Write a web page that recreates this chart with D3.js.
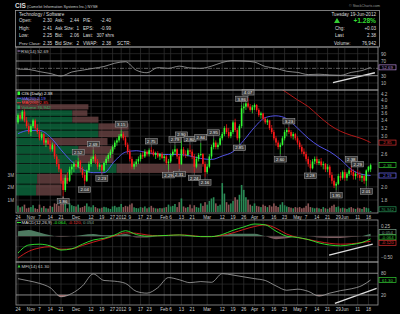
<!DOCTYPE html>
<meta charset="utf-8">
<script src="https://d3js.org/d3.v7.min.js"></script>
<style>body{margin:0;background:#000}</style>
<body>
<div id="chart"></div>
<script>

// ---------------- data ----------------
var holidays = ["2011-11-24","2011-12-26","2012-01-02","2012-01-16","2012-02-20","2012-04-06","2012-05-28"];

var opens = [
3.35,3.55,3.45,3.65,3.40, 3.25,3.10,3.25,3.40,3.20, 3.10,2.95,3.05,2.85,2.90, 2.82,2.70,2.80,2.55,2.40,
2.30,2.10,1.95,2.15,2.10, 2.30,2.35,2.40,2.35,2.45, 2.30,2.20,2.10,2.28,2.40, 2.50,2.55,2.45,2.35,2.38,
2.28,2.42,2.50,2.58,2.65, 2.75,2.85,2.90,3.00,3.05, 2.95,2.80,2.65,2.50,2.35, 2.40,2.45,2.50,2.58,2.55,
2.65,2.60,2.68,2.65,2.58, 2.62,2.55,2.60,2.52,2.55, 2.42,2.45,2.58,2.65,2.70, 2.55,2.40,2.70,2.60,2.58,
2.68,2.65,2.55,2.35,2.50, 2.58,2.60,2.40,2.25,2.35, 2.55,2.75,2.85,2.75,2.80, 2.95,3.05,3.20,3.10,3.00,
3.10,3.35,3.15,2.95,3.25, 3.75,3.80,3.90,3.80,3.70, 3.78,3.85,3.70,3.55,3.60, 3.45,3.35,3.40,3.20,3.10,
2.95,2.85,2.75,2.80,2.95, 3.10,3.15,3.10,3.00,3.05, 2.95,2.85,2.75,2.65,2.60, 2.50,2.40,2.32,2.45,2.50,
2.42,2.45,2.38,2.40,2.30, 2.35,2.20,2.10,2.02,2.05, 2.18,2.15,2.25,2.15,2.22, 2.28,2.25,2.18,2.22,2.20,
2.15,2.18,2.10,2.28,2.30];
var highs = [
3.60,3.62,3.70,3.72,3.50, 3.35,3.30,3.45,3.45,3.30, 3.15,3.10,3.08,2.95,2.98, 2.90,2.85,2.82,2.60,2.50,
2.32,2.15,2.20,2.25,2.35, 2.40,2.45,2.48,2.52,2.48, 2.35,2.25,2.30,2.45,2.55, 2.69,2.60,2.50,2.42,2.40,
2.45,2.55,2.62,2.70,2.80, 2.90,2.95,3.05,3.15,3.10, 3.00,2.85,2.70,2.55,2.45, 2.50,2.55,2.62,2.65,2.70,
2.68,2.72,2.75,2.70,2.65, 2.66,2.62,2.64,2.60,2.58, 2.50,2.62,2.70,2.79,2.72, 2.60,2.90,2.75,2.68,2.72,
2.80,2.70,2.60,2.55,2.62, 2.84,2.62,2.45,2.40,2.60, 2.80,2.95,2.90,2.85,3.00, 3.10,3.25,3.30,3.20,3.15,
3.40,3.45,3.20,3.30,3.86, 3.90,3.95,4.07,3.88,3.85, 3.90,3.88,3.75,3.65,3.62, 3.50,3.45,3.42,3.28,3.15,
3.00,2.90,2.85,3.00,3.15, 3.20,3.23,3.15,3.10,3.08, 3.00,2.90,2.80,2.72,2.65, 2.55,2.48,2.50,2.55,2.55,
2.50,2.52,2.45,2.42,2.40, 2.38,2.25,2.15,2.08,2.22, 2.25,2.28,2.30,2.25,2.32, 2.38,2.30,2.25,2.29,2.26,
2.22,2.20,2.30,2.36,2.41];
var lows = [
3.30,3.40,3.40,3.35,3.20, 3.05,3.00,3.20,3.15,3.05, 2.90,2.90,2.80,2.75,2.80, 2.65,2.65,2.50,2.35,2.25,
2.05,1.86,1.92,2.05,2.08, 2.20,2.25,2.30,2.32,2.25, 2.15,2.04,2.08,2.25,2.35, 2.45,2.40,2.30,2.28,2.23,
2.25,2.38,2.45,2.52,2.60, 2.70,2.78,2.85,2.95,2.90, 2.75,2.60,2.45,2.30,2.30, 2.35,2.40,2.45,2.50,2.52,
2.55,2.55,2.60,2.55,2.50, 2.52,2.48,2.50,2.45,2.38, 2.29,2.42,2.55,2.60,2.50, 2.31,2.38,2.55,2.52,2.55,
2.60,2.50,2.24,2.32,2.45, 2.55,2.35,2.16,2.22,2.32, 2.50,2.70,2.70,2.70,2.78, 2.90,3.00,3.05,2.95,2.95,
3.05,3.10,2.90,2.85,3.20, 3.60,3.70,3.75,3.65,3.60, 3.70,3.65,3.50,3.45,3.40, 3.30,3.28,3.15,3.05,2.90,
2.78,2.70,2.60,2.78,2.90, 3.00,3.05,2.95,2.92,2.90, 2.80,2.70,2.60,2.55,2.45, 2.35,2.28,2.30,2.40,2.38,
2.38,2.35,2.30,2.25,2.25, 2.15,2.05,1.98,1.95,2.03, 2.10,2.12,2.10,2.10,2.18, 2.20,2.12,2.12,2.15,2.10,
2.08,2.05,2.01,2.25,2.25];
var closes = [
3.55,3.45,3.65,3.40,3.25, 3.10,3.25,3.40,3.20,3.10, 2.95,3.05,2.85,2.90,2.82, 2.70,2.80,2.55,2.40,2.30,
2.10,1.95,2.15,2.10,2.30, 2.35,2.40,2.35,2.45,2.30, 2.20,2.10,2.28,2.40,2.50, 2.55,2.45,2.35,2.38,2.28,
2.42,2.50,2.58,2.65,2.75, 2.85,2.90,3.00,3.05,2.95, 2.80,2.65,2.50,2.35,2.40, 2.45,2.50,2.58,2.55,2.65,
2.60,2.68,2.65,2.58,2.62, 2.55,2.60,2.52,2.55,2.42, 2.45,2.58,2.65,2.70,2.55, 2.40,2.70,2.60,2.58,2.68,
2.65,2.55,2.35,2.50,2.58, 2.60,2.40,2.25,2.35,2.55, 2.75,2.85,2.75,2.80,2.95, 3.05,3.20,3.10,3.00,3.10,
3.35,3.15,2.95,3.25,3.75, 3.80,3.90,3.80,3.70,3.78, 3.85,3.70,3.55,3.60,3.45, 3.35,3.40,3.20,3.10,2.95,
2.85,2.75,2.80,2.95,3.10, 3.15,3.10,3.00,3.05,2.95, 2.85,2.75,2.65,2.60,2.50, 2.40,2.32,2.45,2.50,2.42,
2.45,2.38,2.40,2.30,2.35, 2.20,2.10,2.02,2.05,2.18, 2.15,2.25,2.15,2.22,2.28, 2.25,2.18,2.22,2.20,2.15,
2.18,2.10,2.28,2.35,2.38];
// daily volume, thousands of shares
var volumes = [
520,380,450,600,300,350,
400,550,300,250,600,350,480,300,280,500,420,700,650,520,900,1250,800,300,700,550,480,
450,600,350,400,500,700,450,380,550,400,300,280,350,420,380,300,250,450,500,380,420,
650,400,500,450,600,700,380,320,300,400,350,450,300,380,500,350,300,280,320,300,
350,400,600,450,500,650,400,800,1100,450,350,400,600,300,550,400,350,700,500,800,
600,900,1100,1200,700,500,600,2350,1500,800,600,700,900,1200,1000,1400,2200,1800,1200,1000,600,500,
700,500,450,400,600,500,400,550,450,700,500,400,600,800,550,450,400,350,300,400,
350,400,300,350,500,700,400,350,300,350,300,250,400,300,250,350,500,600,400,450,300,350,
300,250,350,400,300,250,350,300,250,400,350,300,77];

// indicator readings, one every 5 sessions plus the last session
var ma20   = [3.06,3.14,3.14,2.98,2.69,2.45,2.30,2.24,2.24,2.46,2.64,2.67,2.63,2.60,2.59,2.59,2.56,
              2.51,2.49,2.56,2.65,2.90,3.22,3.48,3.53,3.45,3.20,2.95,2.77,2.65,2.49,2.30,2.21,2.19];
var ma200  = [4.50,4.25,4.01,3.80,3.52,3.28,3.12,3.02,2.94,2.85];   // from session 120
var rsi    = [48,47,41,36,29,40,45,50,55,64,68,45,38,52,50,56,51,50,56,66,71,70,67,55,50,42,39,33,34,32,31,39,44,52.69];
var macd   = [-0.40,-0.21,-0.19,-0.23,-0.33,-0.30,-0.19,-0.09,-0.05,0.03,0.13,0.04,0.00,0.01,0.02,0.03,0.01,
              -0.01,-0.01,0.04,0.14,0.22,0.29,0.27,0.12,0.00,-0.03,-0.08,-0.16,-0.21,-0.23,-0.20,-0.15,-0.064];
var signal = [-0.52,-0.36,-0.28,-0.25,-0.31,-0.30,-0.22,-0.14,-0.07,0.01,0.08,0.07,0.03,0.01,0.02,0.03,0.02,
              -0.01,-0.01,0.02,0.08,0.16,0.23,0.27,0.19,0.05,-0.03,-0.08,-0.13,-0.17,-0.19,-0.18,-0.15,-0.12];
var mfi    = [65,59,52,40,15,24,45,78,60,58,52,30,25,40,68,62,54,57,55,79,75,70,65,60,45,33,36,30,17,25,32,37,46,61.3];

// volume by price: 12 equal price zones between the period low and high (thousands)
var vbpUp   = [2000,2100,10000,6200,6200,2700,8200,8200,5600,5600,300,600];
var vbpDown = [2500,3000,8500,3500,3500,6400,3000,3000,2600,1500,6900,1800];

// price labels on swing highs / lows: session, value
var swings = [[21,1.86,"lo"],[28,2.52,"hi"],[31,2.04,"lo"],[35,2.69,"hi"],[39,2.23,"lo"],[48,3.15,"hi"],
  [62,2.75,"hi"],[70,2.29,"lo"],[73,2.79,"hi"],[75,2.31,"lo"],[76,2.90,"hi"],[80,2.80,"hi"],[82,2.24,"lo"],
  [85,2.84,"hi"],[87,2.16,"lo"],[91,2.95,"hi"],[103,2.85,"lo"],[104,3.86,"hi"],[107,4.07,"hi"],[122,2.60,"lo"],
  [126,3.23,"hi"],[136,2.28,"lo"],[148,1.95,"lo"],[155,2.38,"hi"],[158,2.29,"hi"],[162,2.01,"lo"]];

// trend lines drawn on the indicators: [session, value]
var rsiTrend  = [[146.5,11],[166,38]];
var macdTrend = [[144.7,-0.45],[165,-0.19]];
var mfiTrend  = [[147.4,-3],[166.8,38]];

var xTicks = [["2011-10-24","24"],["2011-11-01","Nov"],["2011-11-07","7"],["2011-11-14","14"],["2011-11-21","21"],
  ["2011-12-01","Dec"],["2011-12-12","12"],["2011-12-19","19"],["2011-12-27","27"],["2012-01-03","2012"],
  ["2012-01-09","9"],["2012-01-17","17"],["2012-01-23","23"],["2012-02-01","Feb"],["2012-02-06","6"],
  ["2012-02-13","13"],["2012-02-21","21"],["2012-03-01","Mar"],["2012-03-12","12"],["2012-03-19","19"],
  ["2012-03-26","26"],["2012-04-02","Apr"],["2012-04-09","9"],["2012-04-16","16"],["2012-04-23","23"],
  ["2012-05-01","May"],["2012-05-07","7"],["2012-05-14","14"],["2012-05-21","21"],["2012-05-29","29"],
  ["2012-06-01","Jun"],["2012-06-11","11"],["2012-06-18","18"]];
var priceTicks = [4.2,4.0,3.8,3.6,3.4,3.2,3.0,2.8,2.6,2.4,2.2,2.0,1.8];
var volTicks = [1000,2000,3000];

// ---------------- layout ----------------
var W = 400, H = 314, left = 16, right = 378;
var font = "'Liberation Sans', Arial, sans-serif";
var svg = d3.select("#chart").append("svg")
    .attr("width", W).attr("height", H)
    .style("background", "#000").style("font-family", font);

// trading sessions
var fmt = d3.timeFormat("%Y-%m-%d");
var days = [];
for (var d = new Date(2011, 9, 24); d <= new Date(2012, 5, 19); d.setDate(d.getDate() + 1)) {
    if (d.getDay() == 0 || d.getDay() == 6 || holidays.indexOf(fmt(d)) >= 0) continue;
    days.push(fmt(d));
}
var n = days.length;
var sIdx = d3.range(0, n - 4, 5).concat([n - 1]);

var x = d3.scaleLinear().domain([0, n - 1]).range([18, 370.6]);

var panels = {
    rsi:  {top: 47, bottom: 90},
    main: {top: 90, bottom: 213},
    macd: {top: 220, bottom: 262},
    mfi:  {top: 262, bottom: 305}
};
var yRsi = d3.scaleLinear().domain([0, 100]).range([86.7, 50]);
var yP = d3.scaleLog().domain([4.34, 1.6225]).range([90, 213]);
var yV = d3.scaleLinear().domain([0, 10000]).range([212, 89]);
var yM = d3.scaleLinear().domain([-0.5, 0.25]).range([257.2, 225.7]);
var yF = d3.scaleLinear().domain([0, 100]).range([302.2, 266]);

function txt(g, xx, yy, s, size, color, anchor) {
    return g.append("text").attr("x", xx).attr("y", yy).text(s)
        .style("font-size", size + "px").attr("fill", color)
        .attr("text-anchor", anchor || "start");
}

// clip paths per panel
Object.keys(panels).forEach(function(k) {
    var p = panels[k];
    svg.append("clipPath").attr("id", "clip-" + k).append("rect")
        .attr("x", left).attr("y", p.top).attr("width", right - left).attr("height", p.bottom - p.top);
});

// ---------------- header ----------------
txt(svg, 15, 8, "CIS", 6.5, "#ddd").style("font-weight", "bold");
txt(svg, 27, 7.5, "(Camelot Information Systems Inc.) NYSE", 3.8, "#ccc");
txt(svg, 380, 6.5, "\u00a9 StockCharts.com", 3.6, "#999", "end");

svg.append("rect").attr("x", 15.5).attr("y", 10.5).attr("width", 364).attr("height", 36.5)
    .attr("fill", "none").attr("stroke", "#999").attr("stroke-width", 0.8);

var hs = 4.6, hc = "#ddd";
txt(svg, 19, 15.5, "Technology / Software", hs, hc);
var rows = [
    ["Open:", "2.30", "Ask:", "2.44", "P/E:", "-2.40"],
    ["High:", "2.41", "Ask Size:", "1", "EPS:", "-0.99"],
    ["Low:", "2.25", "Bid:", "2.06", "Last:", "307 shrs"],
    ["Prev Close:", "2.35", "Bid Size:", "2", "VWAP:", "2.38"]
];
rows.forEach(function(r, i) {
    var yy = 22 + i * 7.6;
    txt(svg, 19, yy, r[0], r[0].length > 8 ? 4.2 : hs, hc);
    txt(svg, 52, yy, r[1], hs, hc, "end");
    txt(svg, 55, yy, r[2], hs, hc);
    txt(svg, 79, yy, r[3], hs, hc, "end");
    txt(svg, 83, yy, r[4], hs, hc);
    txt(svg, r[4] == "Last:" ? 114 : 111, yy, r[5], hs, hc, "end");
});
txt(svg, 117, 22 + 3 * 7.6, "SCTR:", hs, hc);

txt(svg, 376, 15.5, "Tuesday 19-Jun-2012", hs, hc, "end");
svg.append("path").attr("d", "M334,23 L337,18 L340,23 Z").attr("fill", "#3c3");
txt(svg, 376, 23, "+1.28%", 6.6, "#3d3", "end").style("font-weight", "bold");
txt(svg, 335, 29.6, "Chg:", hs, hc);
txt(svg, 376, 29.6, "+0.03", hs, hc, "end");
txt(svg, 335, 37.2, "Last", hs, hc);
txt(svg, 376, 37.2, "2.38", hs, hc, "end");
txt(svg, 334, 44.8, "Volume:", hs, hc);
txt(svg, 376, 44.8, "76,942", hs, hc, "end");

// ---------------- grids ----------------
var tickIdx = xTicks.map(function(t) { return days.indexOf(t[0]); });
Object.keys(panels).forEach(function(k) {
    var p = panels[k];
    svg.append("g").selectAll("line").data(tickIdx).enter().append("line")
        .attr("x1", function(i) { return x(i); }).attr("x2", function(i) { return x(i); })
        .attr("y1", p.top).attr("y2", p.bottom)
        .attr("stroke", "#333").attr("stroke-width", 0.7);
});
function hGrid(vals, scale, color, w) {
    svg.append("g").selectAll("line").data(vals).enter().append("line")
        .attr("x1", left).attr("x2", right)
        .attr("y1", function(v) { return scale(v); }).attr("y2", function(v) { return scale(v); })
        .attr("stroke", color).attr("stroke-width", w);
}
hGrid(priceTicks, yP, "#2e2e2e", 0.7);
hGrid([90, 10], yRsi, "#2e2e2e", 0.7);
hGrid([0.25, 0, -0.25, -0.5], yM, "#2e2e2e", 0.7);
hGrid([50], yF, "#2e2e2e", 0.7);

// ---------------- volume by price ----------------
var lo = d3.min(lows), hi = d3.max(highs), step = (hi - lo) / 12;
var xVbp = d3.scaleLinear().domain([0, 36000]).range([0, right - left]);
var gv = svg.append("g").attr("clip-path", "url(#clip-main)");
vbpUp.forEach(function(u, k) {
    var y1 = yP(lo + (k + 1) * step), y0 = yP(lo + k * step);
    gv.append("rect").attr("x", left).attr("y", y1 + 0.4).attr("width", xVbp(u)).attr("height", y0 - y1 - 0.8)
        .attr("fill", "#0d6a3e").attr("fill-opacity", 0.8);
    gv.append("rect").attr("x", left + xVbp(u)).attr("y", y1 + 0.4).attr("width", xVbp(vbpDown[k])).attr("height", y0 - y1 - 0.8)
        .attr("fill", "#6a4444").attr("fill-opacity", 0.8);
});

// ---------------- volume bars ----------------
gv.selectAll(".vol").data(volumes).enter().append("rect")
    .attr("x", function(v, i) { return x(i) - 0.8; })
    .attr("width", 1.6)
    .attr("y", function(v) { return yV(v); })
    .attr("height", function(v) { return yV(0) - yV(v); })
    .attr("fill", function(v, i) { return i > 0 && closes[i] < closes[i - 1] ? "#8a5555" : "#2a8a55"; });

// ---------------- moving averages ----------------
var line = d3.line().curve(d3.curveMonotoneX);
gv.append("path")
    .attr("d", line(ma20.map(function(v, k) { return [x(sIdx[k]), yP(v)]; })))
    .attr("fill", "none").attr("stroke", "#5a5aff").attr("stroke-width", 0.9);
var ma200Idx = sIdx.slice(sIdx.length - ma200.length);
gv.append("path")
    .attr("d", line(ma200.map(function(v, k) { return [x(ma200Idx[k]), yP(v)]; })))
    .attr("fill", "none").attr("stroke", "#c41a1a").attr("stroke-width", 0.9);

// ---------------- candles ----------------
var candleColor = function(i) { return i > 0 && closes[i] < closes[i - 1] ? "#ff1a1a" : "#33ff33"; };
gv.selectAll(".wick").data(closes).enter().append("line")
    .attr("x1", function(c, i) { return x(i); }).attr("x2", function(c, i) { return x(i); })
    .attr("y1", function(c, i) { return yP(highs[i]); }).attr("y2", function(c, i) { return yP(lows[i]); })
    .attr("stroke", function(c, i) { return candleColor(i); }).attr("stroke-width", 0.7);
gv.selectAll(".body").data(closes).enter().append("rect")
    .attr("x", function(c, i) { return x(i) - 0.8; }).attr("width", 1.6)
    .attr("y", function(c, i) { return yP(Math.max(opens[i], c)); })
    .attr("height", function(c, i) { return Math.max(0.7, Math.abs(yP(opens[i]) - yP(c))); })
    .attr("fill", function(c, i) { return candleColor(i); });

// swing labels
var gs = svg.append("g");
swings.forEach(function(s) {
    var cx = x(s[0]), py = yP(s[1]);
    var by = s[2] == "hi" ? py - 8.5 : py + 2.5;
    gs.append("line").attr("x1", cx).attr("x2", cx)
        .attr("y1", s[2] == "hi" ? by + 5 : by).attr("y2", py).attr("stroke", "#999").attr("stroke-width", 0.5);
    gs.append("rect").attr("x", cx - 6).attr("y", by).attr("width", 12).attr("height", 5.5)
        .attr("fill", "#3a3a3a").attr("stroke", "#aaa").attr("stroke-width", 0.5);
    txt(gs, cx, by + 4.4, s[1].toFixed(2), 4.3, "#eee", "middle");
});

// ---------------- RSI ----------------
var gr = svg.append("g").attr("clip-path", "url(#clip-rsi)");
hGrid([70, 30], yRsi, "#999", 0.9);
svg.append("line").attr("x1", left).attr("x2", right).attr("y1", yRsi(50)).attr("y2", yRsi(50))
    .attr("stroke", "#888").attr("stroke-width", 0.7).attr("stroke-dasharray", "4,1.5,1,1.5");
var rsiPts = rsi.map(function(v, k) { return [x(sIdx[k]), yRsi(v)]; });
svg.append("clipPath").attr("id", "clip-rsilow").append("rect")
    .attr("x", left).attr("y", yRsi(30)).attr("width", right - left).attr("height", 20);
gr.append("path").attr("d", d3.area().curve(d3.curveMonotoneX).y0(yRsi(30))(rsiPts))
    .attr("fill", "#7070d0").attr("clip-path", "url(#clip-rsilow)");
gr.append("path").attr("d", line(rsiPts)).attr("fill", "none").attr("stroke", "#bbb").attr("stroke-width", 0.7);
gr.append("line").attr("x1", x(rsiTrend[0][0])).attr("y1", yRsi(rsiTrend[0][1]))
    .attr("x2", x(rsiTrend[1][0])).attr("y2", yRsi(rsiTrend[1][1])).attr("stroke", "#ddd").attr("stroke-width", 1.3);

// ---------------- MACD ----------------
var gm = svg.append("g").attr("clip-path", "url(#clip-macd)");
var hist = macd.map(function(v, k) { return [x(sIdx[k]), yM(v - signal[k])]; });
svg.append("clipPath").attr("id", "clip-hpos").append("rect")
    .attr("x", left).attr("y", panels.macd.top).attr("width", right - left).attr("height", yM(0) - panels.macd.top);
svg.append("clipPath").attr("id", "clip-hneg").append("rect")
    .attr("x", left).attr("y", yM(0)).attr("width", right - left).attr("height", panels.macd.bottom - yM(0));
var harea = d3.area().curve(d3.curveMonotoneX).y0(yM(0));
gm.append("path").attr("d", harea(hist)).attr("fill", "#4e7a60").attr("clip-path", "url(#clip-hpos)");
gm.append("path").attr("d", harea(hist)).attr("fill", "#7a5a5e").attr("clip-path", "url(#clip-hneg)");
gm.append("path").attr("d", line(signal.map(function(v, k) { return [x(sIdx[k]), yM(v)]; })))
    .attr("fill", "none").attr("stroke", "#e02020").attr("stroke-width", 0.9);
gm.append("path").attr("d", line(macd.map(function(v, k) { return [x(sIdx[k]), yM(v)]; })))
    .attr("fill", "none").attr("stroke", "#33ee33").attr("stroke-width", 0.9);
gm.append("line").attr("x1", x(macdTrend[0][0])).attr("y1", yM(macdTrend[0][1]))
    .attr("x2", x(macdTrend[1][0])).attr("y2", yM(macdTrend[1][1])).attr("stroke", "#ddd").attr("stroke-width", 1.3);

// ---------------- MFI ----------------
var gf = svg.append("g").attr("clip-path", "url(#clip-mfi)");
hGrid([80, 20], yF, "#999", 0.9);
var mfiPts = mfi.map(function(v, k) { return [x(sIdx[k]), yF(v)]; });
svg.append("clipPath").attr("id", "clip-mfilow").append("rect")
    .attr("x", left).attr("y", yF(20)).attr("width", right - left).attr("height", 20);
gf.append("path").attr("d", d3.area().curve(d3.curveMonotoneX).y0(yF(20))(mfiPts))
    .attr("fill", "#a05050").attr("clip-path", "url(#clip-mfilow)");
gf.append("path").attr("d", line(mfiPts)).attr("fill", "none").attr("stroke", "#bbb").attr("stroke-width", 0.7);
gf.append("line").attr("x1", x(mfiTrend[0][0])).attr("y1", yF(mfiTrend[0][1]))
    .attr("x2", x(mfiTrend[1][0])).attr("y2", yF(mfiTrend[1][1])).attr("stroke", "#ddd").attr("stroke-width", 1.3);

// ---------------- frames ----------------
Object.keys(panels).forEach(function(k) {
    var p = panels[k];
    svg.append("rect").attr("x", left).attr("y", p.top).attr("width", right - left).attr("height", p.bottom - p.top)
        .attr("fill", "none").attr("stroke", "#999").attr("stroke-width", 0.8);
});

// ---------------- value boxes (right edge) ----------------
var boxes = [
    [yRsi(52.69), "52.69", "#b58ad8"],
    [yP(2.85), "2.85", "#e03030"],
    [yP(2.38), "2.38", "#3c3"],
    [yP(2.19), "2.19", "#7070ff"],
    [209.3, "76,942", "#2a9a5a"],
    [232, "0.054", "#7aa08a"],
    [237.4, "-0.064", "#3c3"],
    [242.8, "-0.120", "#e03030"],
    [yF(61.3), "61.30", "#3c3"]
];

// ---------------- axes ----------------
var as = 4.6, ac = "#bbb";
function rightAxis(vals, scale, f) {
    svg.append("g").attr("transform", "translate(" + right + ",0)")
        .call(d3.axisRight(scale).tickValues(vals).tickSize(0).tickPadding(3).tickFormat(f))
        .call(function(g) {
            g.select(".domain").remove();
            g.selectAll("text").attr("fill", ac).style("font-size", as + "px").style("font-family", font);
            // tick labels that sit under a value box are hidden, as on the original
            g.selectAll(".tick").filter(function(v) {
                return boxes.some(function(b) { return Math.abs(b[0] - scale(v)) < 4.5; });
            }).remove();
        });
}
rightAxis([90, 70, 30, 10], yRsi, d3.format("d"));
rightAxis(priceTicks, yP, d3.format(".1f"));
rightAxis([0.25, -0.25, -0.5], yM, d3.format(".2f"));
rightAxis([80, 20], yF, d3.format("d"));

svg.append("g").attr("transform", "translate(" + left + ",0)")
    .call(d3.axisLeft(yV).tickValues(volTicks).tickSize(0).tickPadding(2).tickFormat(function(v) { return v / 1000 + "M"; }))
    .call(function(g) {
        g.select(".domain").remove();
        g.selectAll("text").attr("fill", ac).style("font-size", as + "px").style("font-family", font);
    });

boxes.forEach(function(b) {
    svg.append("rect").attr("x", right + 1).attr("y", b[0] - 2.5).attr("width", 17).attr("height", 5)
        .attr("fill", "#000").attr("stroke", b[2]).attr("stroke-width", 0.7);
    txt(svg, right + 9.5, b[0] + 1.6, b[1], 4.3, b[2], "middle");
});

// date labels under main panel and under MFI
[218.5, 310.5].forEach(function(yy) {
    var g = svg.append("g");
    xTicks.forEach(function(t, k) {
        txt(g, x(tickIdx[k]), yy, t[1], 4.6, "#ccc", "middle");
    });
});

// ---------------- legends ----------------
txt(svg, 21, 52.5, "RSI(14) 52.69", 4.4, "#ccc");
svg.append("line").attr("x1", 17.5).attr("x2", 20.5).attr("y1", 51).attr("y2", 51).attr("stroke", "#b58ad8").attr("stroke-width", 1);

svg.append("rect").attr("x", 17.5).attr("y", 91.5).attr("width", 2.5).attr("height", 3.5).attr("fill", "#3f3");
txt(svg, 21.5, 95, "CIS (Daily) 2.38", 4.4, "#eee");
svg.append("line").attr("x1", 17).attr("x2", 21).attr("y1", 98.2).attr("y2", 98.2).attr("stroke", "#6060ff").attr("stroke-width", 1);
txt(svg, 21.5, 99.8, "MA(20) 2.19", 4.4, "#7070ff");
svg.append("line").attr("x1", 17).attr("x2", 21).attr("y1", 102.8).attr("y2", 102.8).attr("stroke", "#e03030").attr("stroke-width", 1);
txt(svg, 21.5, 104.4, "MA(200) 2.85", 4.4, "#ff3a3a");
svg.append("rect").attr("x", 17.5).attr("y", 105.5).attr("width", 2.5).attr("height", 3.5).attr("fill", "#2a9a5a");
txt(svg, 21.5, 109, "Volume 76,942", 4.4, "#2fae63");

svg.append("line").attr("x1", 17).attr("x2", 21).attr("y1", 222.5).attr("y2", 222.5).attr("stroke", "#3e3").attr("stroke-width", 1);
var mt = svg.append("text").attr("x", 21.5).attr("y", 224.2).style("font-size", "4.4px");
mt.append("tspan").attr("fill", "#ddd").text("MACD(12,26,9) ");
mt.append("tspan").attr("fill", "#3e3").text("-0.064, ");
mt.append("tspan").attr("fill", "#e33").text("-0.120, ");
mt.append("tspan").attr("fill", "#7aa08a").text("0.054");

svg.append("path").attr("d", "M17.5,267.5 L19,264.5 L20.5,267.5 Z").attr("fill", "#3c3");
txt(svg, 21.5, 267.6, "MFI(14) 61.30", 4.4, "#ccc");

</script>
</body>
